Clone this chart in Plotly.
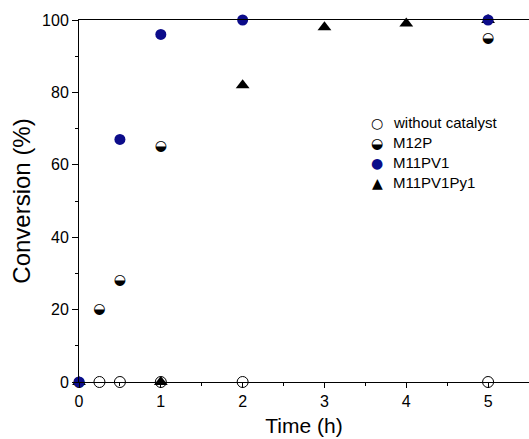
import plotly.graph_objects as go

# Data
t_none = [0.25, 0.5, 1, 2, 5]
y_none = [0, 0, 0, 0, 0]
t_m12p = [0, 0.25, 0.5, 1, 5]
y_m12p = [0, 20, 28, 65, 95]
t_pv1 = [0, 0.5, 1, 2, 5]
y_pv1 = [0, 67, 96, 100, 100]
t_py1 = [0, 1, 2, 3, 4, 5]
y_py1 = [0, 0, 82, 98, 99, 100]

legend_names = ["without catalyst", "M12P", "M11PV1", "M11PV1Py1"]
legend_glyphs = ["○", "◒", "●", "▲"]
legend_colors = ["black", "black", "#0c0c8a", "black"]

x_ticks = [0, 1, 2, 3, 4, 5]
y_ticks = [0, 20, 40, 60, 80, 100]

FONT = "Liberation Sans, Arial, sans-serif"
BLUE = "#0c0c8a"

fig = go.Figure()
fig.add_trace(go.Scatter(x=t_none, y=y_none, mode="markers", name=legend_names[0],
                         marker=dict(symbol="circle-open", size=11, color="black",
                                     line=dict(width=1, color="black")),
                         cliponaxis=False, showlegend=False))
fig.add_trace(go.Scatter(x=t_m12p, y=y_m12p, mode="text", name=legend_names[1],
                         text=["◒"] * len(t_m12p), textposition="middle center",
                         textfont=dict(family="DejaVu Sans", size=14, color="black"),
                         cliponaxis=False, showlegend=False))
fig.add_trace(go.Scatter(x=t_py1, y=y_py1, mode="markers", name=legend_names[3],
                         marker=dict(symbol="triangle-up", size=12, color="black"),
                         cliponaxis=False, showlegend=False))
fig.add_trace(go.Scatter(x=t_pv1, y=y_pv1, mode="markers", name=legend_names[2],
                         marker=dict(symbol="circle", size=11, color=BLUE),
                         cliponaxis=False, showlegend=False))

# Legend built from annotations
for i, (nm, g, c) in enumerate(zip(legend_names, legend_glyphs, legend_colors)):
    yy = 0.716 - i * 0.0553
    fig.add_annotation(xref="paper", yref="paper", x=0.663, y=yy, text=g,
                       showarrow=False, xanchor="center", yanchor="middle",
                       font=dict(family="DejaVu Sans", size=14, color=c))
    fig.add_annotation(xref="paper", yref="paper", x=0.694, y=yy, text=nm,
                       showarrow=False, xanchor="left", yanchor="middle",
                       font=dict(family=FONT, size=15, color="black"))

fig.update_layout(
    width=529, height=439,
    margin=dict(l=79, r=0, t=20, b=57),
    paper_bgcolor="white", plot_bgcolor="white",
    font=dict(family=FONT, color="black"),
    showlegend=False,
)
fig.update_xaxes(range=[0, 5.5], tickvals=x_ticks, ticktext=[str(v) for v in x_ticks],
                 ticks="outside", ticklen=5, tickwidth=1, tickcolor="black",
                 showline=True, linecolor="black", linewidth=1, mirror=True,
                 showgrid=False, zeroline=False,
                 tickfont=dict(size=16, family=FONT),
                 title=dict(text="Time (h)", font=dict(size=21, family=FONT), standoff=9),
                 minor=dict(dtick=0.5, tick0=0, ticks="outside", ticklen=3, tickwidth=1,
                            tickcolor="black", showgrid=False))
fig.update_yaxes(range=[0, 100], tickvals=y_ticks, ticktext=[str(v) for v in y_ticks],
                 ticks="outside", ticklen=6, tickwidth=1, tickcolor="black",
                 showline=True, linecolor="black", linewidth=1,
                 showgrid=False, zeroline=False,
                 tickfont=dict(size=16, family=FONT),
                 title=dict(text="Conversion (%)", font=dict(size=24, family=FONT), standoff=4),
                 minor=dict(dtick=10, tick0=0, ticks="outside", ticklen=3, tickwidth=1,
                            tickcolor="black", showgrid=False))

fig.write_html("out.html", config={"displayModeBar": False},
               post_script="document.body.style.margin='0';")
